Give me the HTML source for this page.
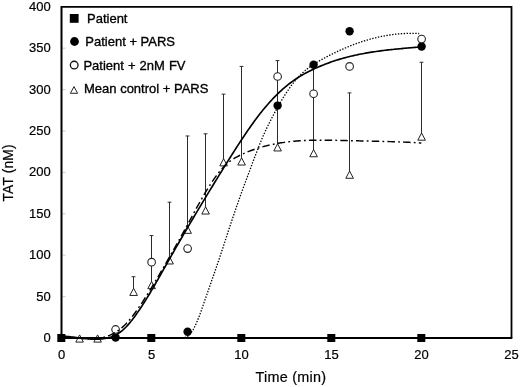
<!DOCTYPE html>
<html><head><meta charset="utf-8"><title>TAT chart</title>
<style>html,body{margin:0;padding:0;background:#fff;overflow:hidden}</style></head>
<body>
<svg width="520" height="387" viewBox="0 0 520 387" style="display:block;font-family:'Liberation Sans',sans-serif">
<rect width="520" height="387" fill="#fff"/>
<line x1="62.5" x2="65.5" y1="296.60" y2="296.60" stroke="#bbb" stroke-width="0.8"/>
<line x1="62.5" x2="65.5" y1="255.20" y2="255.20" stroke="#bbb" stroke-width="0.8"/>
<line x1="62.5" x2="65.5" y1="213.80" y2="213.80" stroke="#bbb" stroke-width="0.8"/>
<line x1="62.5" x2="65.5" y1="172.40" y2="172.40" stroke="#bbb" stroke-width="0.8"/>
<line x1="62.5" x2="65.5" y1="131.00" y2="131.00" stroke="#bbb" stroke-width="0.8"/>
<line x1="62.5" x2="65.5" y1="89.60" y2="89.60" stroke="#bbb" stroke-width="0.8"/>
<line x1="62.5" x2="65.5" y1="48.20" y2="48.20" stroke="#bbb" stroke-width="0.8"/>
<path d="M133.50,292.05 V276.73 M131.60,276.73 H135.40" stroke="#2a2a2a" stroke-width="1" fill="none"/>
<path d="M151.50,285.26 V235.58 M149.60,235.58 H153.40" stroke="#2a2a2a" stroke-width="1" fill="none"/>
<path d="M169.50,260.58 V202.21 M167.60,202.21 H171.40" stroke="#2a2a2a" stroke-width="1" fill="none"/>
<path d="M187.50,229.95 V135.97 M185.60,135.97 H189.40" stroke="#2a2a2a" stroke-width="1" fill="none"/>
<path d="M205.50,210.65 V133.82 M203.60,133.82 H207.40" stroke="#2a2a2a" stroke-width="1" fill="none"/>
<path d="M223.50,162.46 V94.15 M221.60,94.15 H225.40" stroke="#2a2a2a" stroke-width="1" fill="none"/>
<path d="M241.50,161.64 V66.42 M239.60,66.42 H243.40" stroke="#2a2a2a" stroke-width="1" fill="none"/>
<path d="M277.50,147.56 V60.62 M275.60,60.62 H279.40" stroke="#2a2a2a" stroke-width="1" fill="none"/>
<path d="M313.50,153.36 V64.76 M311.60,64.76 H315.40" stroke="#2a2a2a" stroke-width="1" fill="none"/>
<path d="M349.50,174.88 V92.91 M347.60,92.91 H351.40" stroke="#2a2a2a" stroke-width="1" fill="none"/>
<path d="M421.50,136.80 V62.28 M419.60,62.28 H423.40" stroke="#2a2a2a" stroke-width="1" fill="none"/>
<rect x="57.30" y="334.00" width="8" height="8" fill="#000"/>
<rect x="147.30" y="334.00" width="8" height="8" fill="#000"/>
<rect x="237.30" y="334.00" width="8" height="8" fill="#000"/>
<rect x="327.30" y="334.00" width="8" height="8" fill="#000"/>
<rect x="417.30" y="334.00" width="8" height="8" fill="#000"/>
<circle cx="115.60" cy="337.59" r="4.2" fill="#000"/>
<circle cx="187.60" cy="331.71" r="4.2" fill="#000"/>
<circle cx="277.60" cy="105.58" r="4.2" fill="#000"/>
<circle cx="313.60" cy="64.76" r="4.2" fill="#000"/>
<circle cx="349.60" cy="31.23" r="4.2" fill="#000"/>
<circle cx="421.60" cy="46.54" r="4.2" fill="#000"/>
<circle cx="115.60" cy="329.47" r="3.8" fill="#fff" stroke="#222" stroke-width="1.1"/>
<circle cx="151.60" cy="262.16" r="3.8" fill="#fff" stroke="#222" stroke-width="1.1"/>
<circle cx="187.60" cy="248.58" r="3.8" fill="#fff" stroke="#222" stroke-width="1.1"/>
<circle cx="277.60" cy="76.52" r="3.8" fill="#fff" stroke="#222" stroke-width="1.1"/>
<circle cx="313.60" cy="93.74" r="3.8" fill="#fff" stroke="#222" stroke-width="1.1"/>
<circle cx="349.60" cy="66.42" r="3.8" fill="#fff" stroke="#222" stroke-width="1.1"/>
<circle cx="421.60" cy="39.09" r="3.8" fill="#fff" stroke="#222" stroke-width="1.1"/>
<path d="M79.60,334.90 L83.40,342.10 H75.80 Z" fill="#fff" stroke="#222" stroke-width="1"/>
<path d="M97.60,334.90 L101.40,342.10 H93.80 Z" fill="#fff" stroke="#222" stroke-width="1"/>
<path d="M133.60,288.25 L137.40,295.45 H129.80 Z" fill="#fff" stroke="#222" stroke-width="1"/>
<path d="M151.60,281.46 L155.40,288.66 H147.80 Z" fill="#fff" stroke="#222" stroke-width="1"/>
<path d="M169.60,256.78 L173.40,263.98 H165.80 Z" fill="#fff" stroke="#222" stroke-width="1"/>
<path d="M187.60,226.15 L191.40,233.35 H183.80 Z" fill="#fff" stroke="#222" stroke-width="1"/>
<path d="M205.60,206.85 L209.40,214.05 H201.80 Z" fill="#fff" stroke="#222" stroke-width="1"/>
<path d="M223.60,158.66 L227.40,165.86 H219.80 Z" fill="#fff" stroke="#222" stroke-width="1"/>
<path d="M241.60,157.84 L245.40,165.04 H237.80 Z" fill="#fff" stroke="#222" stroke-width="1"/>
<path d="M277.60,143.76 L281.40,150.96 H273.80 Z" fill="#fff" stroke="#222" stroke-width="1"/>
<path d="M313.60,149.56 L317.40,156.76 H309.80 Z" fill="#fff" stroke="#222" stroke-width="1"/>
<path d="M349.60,171.08 L353.40,178.28 H345.80 Z" fill="#fff" stroke="#222" stroke-width="1"/>
<path d="M421.60,133.00 L425.40,140.20 H417.80 Z" fill="#fff" stroke="#222" stroke-width="1"/>
<path d="M175.78,337.89 L176.80,337.76 L177.82,337.71 L178.83,337.71 L179.85,337.73 L180.87,337.76 L181.89,337.77 L182.91,337.73 L183.93,337.62 L184.94,337.42 L185.96,337.09 L186.98,336.63 L188.00,336.00 L189.02,335.18 L190.04,334.14 L191.05,332.89 L192.07,331.42 L193.09,329.76 L194.11,327.91 L195.13,325.88 L196.14,323.69 L197.16,321.33 L198.18,318.83 L199.20,316.21 L200.22,313.48 L201.24,310.66 L202.25,307.78 L203.27,304.86 L204.29,301.93 L205.31,298.99 L206.33,296.07 L207.35,293.15 L208.36,290.25 L209.38,287.34 L210.40,284.44 L211.42,281.53 L212.44,278.61 L213.45,275.68 L214.47,272.74 L215.49,269.77 L216.51,266.79 L217.53,263.78 L218.55,260.75 L219.56,257.71 L220.58,254.65 L221.60,251.58 L222.62,248.50 L223.64,245.42 L224.66,242.33 L225.67,239.24 L226.69,236.15 L227.71,233.06 L228.73,229.97 L229.75,226.89 L230.77,223.83 L231.78,220.77 L232.80,217.73 L233.82,214.70 L234.84,211.69 L235.86,208.71 L236.87,205.75 L237.89,202.81 L238.91,199.90 L239.93,197.03 L240.95,194.18 L241.97,191.37 L242.98,188.59 L244.00,185.83 L245.02,183.08 L246.04,180.35 L247.06,177.63 L248.08,174.90 L249.09,172.18 L250.11,169.45 L251.13,166.71 L252.15,163.98 L253.17,161.25 L254.18,158.54 L255.20,155.84 L256.22,153.17 L257.24,150.53 L258.26,147.92 L259.28,145.35 L260.29,142.82 L261.31,140.35 L262.33,137.93 L263.35,135.57 L264.37,133.28 L265.39,131.06 L266.40,128.89 L267.42,126.77 L268.44,124.69 L269.46,122.65 L270.48,120.64 L271.49,118.65 L272.51,116.69 L273.53,114.75 L274.55,112.83 L275.57,110.94 L276.59,109.08 L277.60,107.25 L278.62,105.44 L279.64,103.66 L280.66,101.92 L281.68,100.20 L282.70,98.52 L283.71,96.86 L284.73,95.24 L285.75,93.66 L286.77,92.10 L287.79,90.59 L288.80,89.10 L289.82,87.66 L290.84,86.25 L291.86,84.88 L292.88,83.55 L293.90,82.25 L294.91,81.00 L295.93,79.79 L296.95,78.62 L297.97,77.49 L298.99,76.40 L300.01,75.35 L301.02,74.33 L302.04,73.35 L303.06,72.41 L304.08,71.50 L305.10,70.62 L306.12,69.77 L307.13,68.95 L308.15,68.16 L309.17,67.40 L310.19,66.65 L311.21,65.93 L312.22,65.24 L313.24,64.56 L314.26,63.90 L315.28,63.26 L316.30,62.63 L317.32,62.02 L318.33,61.42 L319.35,60.84 L320.37,60.26 L321.39,59.69 L322.41,59.13 L323.43,58.58 L324.44,58.03 L325.46,57.48 L326.48,56.94 L327.50,56.41 L328.52,55.88 L329.53,55.36 L330.55,54.84 L331.57,54.33 L332.59,53.82 L333.61,53.32 L334.63,52.82 L335.64,52.33 L336.66,51.84 L337.68,51.36 L338.70,50.89 L339.72,50.42 L340.74,49.96 L341.75,49.50 L342.77,49.05 L343.79,48.60 L344.81,48.16 L345.83,47.73 L346.84,47.30 L347.86,46.88 L348.88,46.46 L349.90,46.05 L350.92,45.65 L351.94,45.25 L352.95,44.86 L353.97,44.47 L354.99,44.09 L356.01,43.72 L357.03,43.35 L358.05,42.99 L359.06,42.63 L360.08,42.28 L361.10,41.94 L362.12,41.60 L363.14,41.27 L364.15,40.95 L365.17,40.63 L366.19,40.32 L367.21,40.02 L368.23,39.72 L369.25,39.43 L370.26,39.14 L371.28,38.86 L372.30,38.59 L373.32,38.33 L374.34,38.07 L375.36,37.82 L376.37,37.57 L377.39,37.33 L378.41,37.10 L379.43,36.88 L380.45,36.66 L381.47,36.45 L382.48,36.24 L383.50,36.04 L384.52,35.85 L385.54,35.67 L386.56,35.49 L387.57,35.32 L388.59,35.16 L389.61,35.00 L390.63,34.85 L391.65,34.71 L392.67,34.57 L393.68,34.44 L394.70,34.32 L395.72,34.21 L396.74,34.10 L397.76,34.00 L398.78,33.90 L399.79,33.82 L400.81,33.74 L401.83,33.67 L402.85,33.60 L403.87,33.54 L404.88,33.49 L405.90,33.45 L406.92,33.41 L407.94,33.38 L408.96,33.36 L409.98,33.35 L410.99,33.34 L412.01,33.34 L413.03,33.34 L414.05,33.36 L415.07,33.38 L416.09,33.41 L417.10,33.45 L418.12,33.49 L419.14,33.54" stroke="#000" stroke-width="1.3" stroke-dasharray="1.4 1.5" fill="none"/>
<path d="M61.30,337.08 L62.81,337.07 L64.31,337.09 L65.82,337.14 L67.33,337.21 L68.83,337.29 L70.34,337.40 L71.84,337.51 L73.35,337.64 L74.86,337.77 L76.36,337.91 L77.87,338.04 L79.38,338.17 L80.88,338.30 L82.39,338.42 L83.89,338.52 L85.40,338.61 L86.91,338.68 L88.41,338.73 L89.92,338.76 L91.43,338.75 L92.93,338.72 L94.44,338.65 L95.94,338.54 L97.45,338.39 L98.96,338.20 L100.46,337.96 L101.97,337.67 L103.48,337.33 L104.98,336.93 L106.49,336.48 L107.99,335.96 L109.50,335.37 L111.01,334.71 L112.51,333.99 L114.02,333.18 L115.53,332.30 L117.03,331.34 L118.54,330.29 L120.04,329.15 L121.55,327.93 L123.06,326.61 L124.56,325.19 L126.07,323.67 L127.58,322.06 L129.08,320.36 L130.59,318.57 L132.09,316.71 L133.60,314.77 L135.11,312.75 L136.61,310.68 L138.12,308.54 L139.63,306.34 L141.13,304.10 L142.64,301.81 L144.15,299.47 L145.65,297.10 L147.16,294.70 L148.66,292.27 L150.17,289.81 L151.68,287.34 L153.18,284.85 L154.69,282.35 L156.20,279.83 L157.70,277.31 L159.21,274.76 L160.71,272.21 L162.22,269.64 L163.73,267.05 L165.23,264.46 L166.74,261.85 L168.25,259.23 L169.75,256.59 L171.26,253.95 L172.76,251.29 L174.27,248.62 L175.78,245.94 L177.28,243.24 L178.79,240.54 L180.30,237.82 L181.80,235.10 L183.31,232.36 L184.81,229.61 L186.32,226.85 L187.83,224.08 L189.33,221.31 L190.84,218.53 L192.35,215.75 L193.85,212.97 L195.36,210.21 L196.86,207.47 L198.37,204.75 L199.88,202.05 L201.38,199.39 L202.89,196.76 L204.40,194.17 L205.90,191.63 L207.41,189.14 L208.92,186.71 L210.42,184.34 L211.93,182.03 L213.43,179.80 L214.94,177.64 L216.45,175.57 L217.95,173.58 L219.46,171.68 L220.97,169.88 L222.47,168.18 L223.98,166.58 L225.48,165.10 L226.99,163.73 L228.50,162.46 L230.00,161.28 L231.51,160.19 L233.02,159.18 L234.52,158.24 L236.03,157.36 L237.53,156.53 L239.04,155.75 L240.55,155.00 L242.05,154.29 L243.56,153.60 L245.07,152.93 L246.57,152.29 L248.08,151.68 L249.58,151.09 L251.09,150.52 L252.60,149.97 L254.10,149.45 L255.61,148.94 L257.12,148.45 L258.62,147.98 L260.13,147.52 L261.63,147.09 L263.14,146.67 L264.65,146.26 L266.15,145.88 L267.66,145.51 L269.17,145.15 L270.67,144.81 L272.18,144.48 L273.68,144.17 L275.19,143.88 L276.70,143.59 L278.20,143.32 L279.71,143.07 L281.22,142.83 L282.72,142.60 L284.23,142.38 L285.74,142.18 L287.24,141.98 L288.75,141.80 L290.25,141.63 L291.76,141.48 L293.27,141.33 L294.77,141.19 L296.28,141.06 L297.79,140.95 L299.29,140.84 L300.80,140.74 L302.30,140.65 L303.81,140.57 L305.32,140.50 L306.82,140.43 L308.33,140.37 L309.84,140.32 L311.34,140.28 L312.85,140.25 L314.35,140.22 L315.86,140.19 L317.37,140.18 L318.87,140.16 L320.38,140.16 L321.89,140.16 L323.39,140.16 L324.90,140.17 L326.40,140.18 L327.91,140.20 L329.42,140.21 L330.92,140.24 L332.43,140.26 L333.94,140.29 L335.44,140.32 L336.95,140.35 L338.45,140.38 L339.96,140.42 L341.47,140.45 L342.97,140.49 L344.48,140.53 L345.99,140.57 L347.49,140.60 L349.00,140.64 L350.51,140.68 L352.01,140.71 L353.52,140.74 L355.02,140.78 L356.53,140.81 L358.04,140.84 L359.54,140.88 L361.05,140.91 L362.56,140.94 L364.06,140.97 L365.57,141.01 L367.07,141.04 L368.58,141.07 L370.09,141.10 L371.59,141.14 L373.10,141.17 L374.61,141.20 L376.11,141.24 L377.62,141.27 L379.12,141.31 L380.63,141.35 L382.14,141.39 L383.64,141.43 L385.15,141.47 L386.66,141.51 L388.16,141.55 L389.67,141.60 L391.17,141.64 L392.68,141.69 L394.19,141.74 L395.69,141.79 L397.20,141.84 L398.71,141.90 L400.21,141.95 L401.72,142.01 L403.22,142.07 L404.73,142.14 L406.24,142.20 L407.74,142.27 L409.25,142.34 L410.76,142.42 L412.26,142.49 L413.77,142.57 L415.27,142.65 L416.78,142.74 L418.29,142.83 L419.79,142.92 L421.30,143.01" stroke="#000" stroke-width="1.45" stroke-dasharray="7.5 3.2 1.8 3.2" fill="none"/>
<path d="M61.30,335.96 L62.81,336.06 L64.31,336.17 L65.82,336.31 L67.33,336.46 L68.83,336.62 L70.34,336.80 L71.84,336.98 L73.35,337.17 L74.86,337.36 L76.36,337.56 L77.87,337.75 L79.38,337.94 L80.88,338.13 L82.39,338.31 L83.89,338.47 L85.40,338.63 L86.91,338.77 L88.41,338.89 L89.92,339.00 L91.43,339.08 L92.93,339.13 L94.44,339.17 L95.94,339.17 L97.45,339.14 L98.96,339.08 L100.46,338.98 L101.97,338.85 L103.48,338.67 L104.98,338.44 L106.49,338.16 L107.99,337.82 L109.50,337.41 L111.01,336.93 L112.51,336.38 L114.02,335.74 L115.53,335.01 L117.03,334.19 L118.54,333.27 L120.04,332.24 L121.55,331.10 L123.06,329.85 L124.56,328.47 L126.07,326.97 L127.58,325.35 L129.08,323.63 L130.59,321.81 L132.09,319.91 L133.60,317.94 L135.11,315.90 L136.61,313.81 L138.12,311.65 L139.63,309.44 L141.13,307.18 L142.64,304.88 L144.15,302.52 L145.65,300.13 L147.16,297.69 L148.66,295.22 L150.17,292.72 L151.68,290.18 L153.18,287.62 L154.69,285.04 L156.20,282.43 L157.70,279.80 L159.21,277.16 L160.71,274.51 L162.22,271.85 L163.73,269.18 L165.23,266.51 L166.74,263.84 L168.25,261.18 L169.75,258.51 L171.26,255.86 L172.76,253.22 L174.27,250.58 L175.78,247.95 L177.28,245.33 L178.79,242.72 L180.30,240.11 L181.80,237.51 L183.31,234.92 L184.81,232.34 L186.32,229.76 L187.83,227.19 L189.33,224.63 L190.84,222.07 L192.35,219.52 L193.85,216.98 L195.36,214.45 L196.86,211.92 L198.37,209.39 L199.88,206.88 L201.38,204.37 L202.89,201.86 L204.40,199.36 L205.90,196.87 L207.41,194.38 L208.92,191.90 L210.42,189.43 L211.93,186.96 L213.43,184.49 L214.94,182.03 L216.45,179.58 L217.95,177.13 L219.46,174.68 L220.97,172.24 L222.47,169.81 L223.98,167.38 L225.48,164.95 L226.99,162.54 L228.50,160.13 L230.00,157.72 L231.51,155.33 L233.02,152.95 L234.52,150.59 L236.03,148.23 L237.53,145.90 L239.04,143.58 L240.55,141.28 L242.05,139.00 L243.56,136.73 L245.07,134.50 L246.57,132.28 L248.08,130.09 L249.58,127.93 L251.09,125.79 L252.60,123.68 L254.10,121.60 L255.61,119.55 L257.12,117.54 L258.62,115.56 L260.13,113.61 L261.63,111.70 L263.14,109.83 L264.65,108.00 L266.15,106.21 L267.66,104.46 L269.17,102.75 L270.67,101.08 L272.18,99.46 L273.68,97.87 L275.19,96.33 L276.70,94.82 L278.20,93.36 L279.71,91.93 L281.22,90.55 L282.72,89.20 L284.23,87.89 L285.74,86.62 L287.24,85.38 L288.75,84.19 L290.25,83.02 L291.76,81.90 L293.27,80.81 L294.77,79.76 L296.28,78.75 L297.79,77.76 L299.29,76.82 L300.80,75.90 L302.30,75.01 L303.81,74.15 L305.32,73.31 L306.82,72.51 L308.33,71.72 L309.84,70.96 L311.34,70.21 L312.85,69.49 L314.35,68.78 L315.86,68.09 L317.37,67.42 L318.87,66.77 L320.38,66.12 L321.89,65.50 L323.39,64.89 L324.90,64.30 L326.40,63.72 L327.91,63.16 L329.42,62.61 L330.92,62.07 L332.43,61.55 L333.94,61.05 L335.44,60.55 L336.95,60.07 L338.45,59.61 L339.96,59.15 L341.47,58.71 L342.97,58.28 L344.48,57.87 L345.99,57.46 L347.49,57.07 L349.00,56.69 L350.51,56.32 L352.01,55.96 L353.52,55.61 L355.02,55.27 L356.53,54.94 L358.04,54.62 L359.54,54.31 L361.05,54.01 L362.56,53.72 L364.06,53.44 L365.57,53.17 L367.07,52.90 L368.58,52.65 L370.09,52.40 L371.59,52.16 L373.10,51.93 L374.61,51.70 L376.11,51.48 L377.62,51.27 L379.12,51.06 L380.63,50.86 L382.14,50.67 L383.64,50.48 L385.15,50.30 L386.66,50.12 L388.16,49.94 L389.67,49.78 L391.17,49.61 L392.68,49.45 L394.19,49.30 L395.69,49.14 L397.20,49.00 L398.71,48.85 L400.21,48.71 L401.72,48.57 L403.22,48.43 L404.73,48.30 L406.24,48.16 L407.74,48.03 L409.25,47.90 L410.76,47.77 L412.26,47.64 L413.77,47.51 L415.27,47.39 L416.78,47.26 L418.29,47.13 L419.79,47.01 L421.30,46.88" stroke="#000" stroke-width="1.65" fill="none"/>
<path d="M61.5,6.8 H511.5 V338" stroke="#000" stroke-width="1.8" fill="none"/>
<path d="M61.5,6 V338 H512.3" stroke="#000" stroke-width="2.0" fill="none"/>
<rect x="69.8" y="14" width="8.8" height="8.8" fill="#000"/>
<circle cx="74.5" cy="41.5" r="4.4" fill="#000"/>
<circle cx="74.2" cy="65.1" r="3.85" fill="#fff" stroke="#111" stroke-width="1.3"/>
<path d="M74,86.6 L77.6,93.3 H70.4 Z" fill="#fff" stroke="#222" stroke-width="1"/>
<g font-size="13" fill="#000" stroke="#000" stroke-width="0.33">
<text x="87" y="23">Patient</text>
<text x="85.3" y="46.4">Patient + PARS</text>
<text x="83.4" y="69.6" word-spacing="0.45">Patient + 2nM FV</text>
<text x="84" y="93">Mean control + PARS</text>
</g>
<g font-size="13" fill="#000" stroke="#000" stroke-width="0.2">
<text x="50.8" y="342.00" text-anchor="end">0</text>
<text x="50.8" y="300.60" text-anchor="end">50</text>
<text x="50.8" y="259.20" text-anchor="end">100</text>
<text x="50.8" y="217.80" text-anchor="end">150</text>
<text x="50.8" y="176.40" text-anchor="end">200</text>
<text x="50.8" y="135.00" text-anchor="end">250</text>
<text x="50.8" y="93.60" text-anchor="end">300</text>
<text x="50.8" y="52.20" text-anchor="end">350</text>
<text x="50.8" y="10.80" text-anchor="end">400</text>
<text x="61.60" y="358.7" text-anchor="middle">0</text>
<text x="151.60" y="358.7" text-anchor="middle">5</text>
<text x="241.60" y="358.7" text-anchor="middle">10</text>
<text x="331.60" y="358.7" text-anchor="middle">15</text>
<text x="421.60" y="358.7" text-anchor="middle">20</text>
<text x="511.60" y="358.7" text-anchor="middle">25</text>
</g>
<g font-size="14.4" fill="#000" stroke="#000" stroke-width="0.2">
<text x="290.9" y="382.2" text-anchor="middle" letter-spacing="0.27">Time (min)</text>
<text transform="translate(13.3,172.9) rotate(-90)" text-anchor="middle" font-size="13.8" letter-spacing="0.15">TAT (nM)</text>
</g>
</svg>
</body></html>
